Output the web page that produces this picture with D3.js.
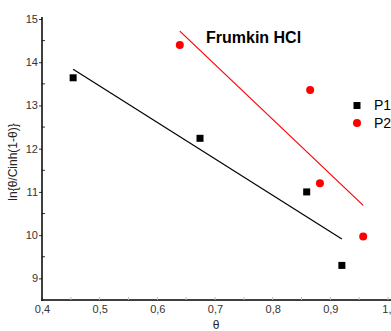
<!DOCTYPE html>
<html>
<head>
<meta charset="utf-8">
<script src="https://cdn.jsdelivr.net/npm/d3@7"></script>
<style>
  html, body { margin: 0; padding: 0; background: #fff; }
  svg { display: block; font-family: "Liberation Sans", Arial, sans-serif; }
</style>
</head>
<body>
<svg id="chart" width="391" height="331"></svg>
<script>
// Frumkin isotherm data for HCl medium
const p1Theta = [0.454, 0.674, 0.859, 0.920];
const p1Value = [13.64, 12.24, 11.00, 9.30];
const p2Theta = [0.639, 0.865, 0.882, 0.957];
const p2Value = [14.40, 13.36, 11.20, 9.97];

// Linear fits (end points in data units)
const p1FitTheta = [0.454, 0.920];
const p1FitValue = [13.84, 9.91];
const p2FitTheta = [0.639, 0.957];
const p2FitValue = [14.72, 10.69];

const xTicks = [0.4, 0.5, 0.6, 0.7, 0.8, 0.9, 1.0];
const xTickLabels = ["0,4", "0,5", "0,6", "0,7", "0,8", "0,9", "1,"];
const yTicks = [9, 10, 11, 12, 13, 14, 15];

const svg = d3.select("#chart");

const x = d3.scaleLinear().domain([0.4, 1.0]).range([42, 388]);
const y = d3.scaleLinear().domain([8.5, 15]).range([300, 19]);

// x axis
const xAxis = d3.axisBottom(x)
  .tickValues(xTicks)
  .tickFormat((d, i) => xTickLabels[i])
  .tickSize(0)
  .tickPadding(5);
const gx = svg.append("g").attr("transform", "translate(0,300)").call(xAxis);
gx.select(".domain").remove();
gx.selectAll("text").attr("fill", "#333").style("font-size", "11px");
// last label sits against the right edge
gx.selectAll(".tick").filter(d => d === 1.0).select("text")
  .attr("text-anchor", "end").attr("dx", "3px");
svg.append("line")
  .attr("x1", 41).attr("x2", 391).attr("y1", 300).attr("y2", 300)
  .attr("stroke", "#000").attr("stroke-width", 1.5);
// minor/major tick marks inside the plot
const xMinor = d3.range(0.45, 1.0, 0.1);
svg.append("g").selectAll("line").data(xTicks.concat(xMinor)).join("line")
  .attr("x1", d => x(d)).attr("x2", d => x(d))
  .attr("y1", 300).attr("y2", 297)
  .attr("stroke", "#bbb").attr("stroke-width", 1);

// y axis
const yAxis = d3.axisLeft(y)
  .tickValues(yTicks)
  .tickFormat(d3.format("d"))
  .tickSize(3)
  .tickPadding(1);
const gy = svg.append("g").attr("transform", "translate(42,0)").call(yAxis);
gy.select(".domain").remove();
gy.selectAll("text").attr("fill", "#333").style("font-size", "11px");
gy.selectAll(".tick line").attr("stroke", "#333");
const yMinor = d3.range(9.5, 15, 1);
svg.append("g").selectAll("line").data(yMinor).join("line")
  .attr("x1", 42).attr("x2", 45)
  .attr("y1", d => y(d)).attr("y2", d => y(d))
  .attr("stroke", "#333").attr("stroke-width", 1);
svg.append("line")
  .attr("x1", 42).attr("x2", 42).attr("y1", 17).attr("y2", 300.75)
  .attr("stroke", "#000").attr("stroke-width", 1.5);

// axis titles
svg.append("text")
  .attr("transform", "translate(17,162) rotate(-90)")
  .attr("text-anchor", "middle")
  .style("font-size", "12px").attr("fill", "#222")
  .text("ln{θ/Cinh(1-θ)}");
svg.append("text")
  .attr("x", 216).attr("y", 329)
  .attr("text-anchor", "middle")
  .style("font-size", "12px").attr("fill", "#222")
  .text("θ");

// fit lines
svg.append("line")
  .attr("x1", x(p1FitTheta[0])).attr("y1", y(p1FitValue[0]))
  .attr("x2", x(p1FitTheta[1])).attr("y2", y(p1FitValue[1]))
  .attr("stroke", "#000").attr("stroke-width", 1.2);
svg.append("line")
  .attr("x1", x(p2FitTheta[0])).attr("y1", y(p2FitValue[0]))
  .attr("x2", x(p2FitTheta[1])).attr("y2", y(p2FitValue[1]))
  .attr("stroke", "#ff0000").attr("stroke-width", 1.2);

// P1 squares
const sq = 7;
svg.append("g").selectAll("rect").data(p1Theta).join("rect")
  .attr("x", d => x(d) - sq / 2)
  .attr("y", (d, i) => y(p1Value[i]) - sq / 2)
  .attr("width", sq).attr("height", sq)
  .attr("fill", "#000");

// P2 circles
svg.append("g").selectAll("circle").data(p2Theta).join("circle")
  .attr("cx", d => x(d))
  .attr("cy", (d, i) => y(p2Value[i]))
  .attr("r", 4)
  .attr("fill", "#ff0000");

// title
svg.append("text")
  .attr("x", 206).attr("y", 43)
  .style("font-size", "16px").style("font-weight", "bold")
  .attr("fill", "#000")
  .text("Frumkin HCl");

// legend
svg.append("rect").attr("x", 353.5).attr("y", 102).attr("width", 7).attr("height", 7).attr("fill", "#000");
svg.append("text").attr("x", 374).attr("y", 110).style("font-size", "14px").attr("fill", "#000").text("P1");
svg.append("circle").attr("cx", 357).attr("cy", 123).attr("r", 4).attr("fill", "#ff0000");
svg.append("text").attr("x", 374).attr("y", 128).style("font-size", "14px").attr("fill", "#000").text("P2");
</script>
</body>
</html>
